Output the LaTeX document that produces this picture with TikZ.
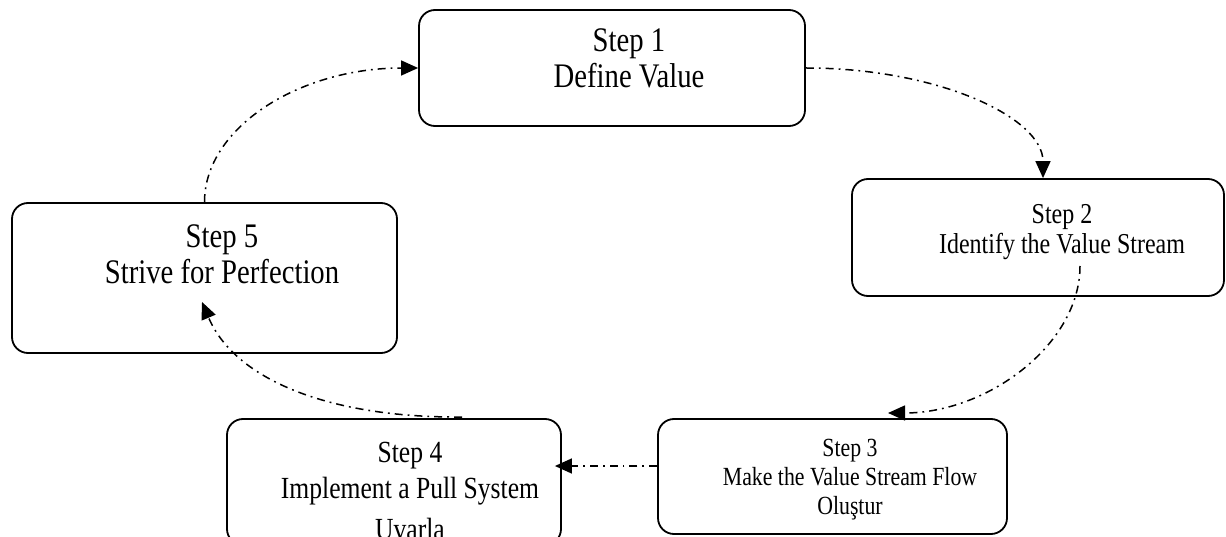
\documentclass[tikz,border=0pt]{standalone}
\usepackage{fontspec}
\setmainfont{Liberation Serif}
\usetikzlibrary{arrows.meta,calc}
\newcommand{\vtxt}[1]{\scalebox{1}[1.2]{#1}}
\begin{document}
\begin{tikzpicture}[x=1pt,y=-1pt,
  stepbox/.style={draw, line width=1.8pt, rounded corners=16pt, inner sep=0pt},
  lbl/.style={anchor=base, inner sep=0pt},
  bigtxt/.style={lbl, font=\fontsize{28.7}{30}\selectfont},
  flow/.style={line width=1.5pt, dash pattern=on 8pt off 5pt on 1.8pt off 5pt,
    -{Triangle[length=17pt,width=15pt]}}]
\useasboundingbox (0,0) rectangle (1226,537);
\clip (0,0) rectangle (1226,537);
% boxes
\node[stepbox, minimum width=386pt, minimum height=116pt] (s1) at (612,68) {};
\node[stepbox, minimum width=372pt, minimum height=117pt] (s2) at (1038,237.5) {};
\node[stepbox, minimum width=349pt, minimum height=115pt] (s3) at (832.5,476.5) {};
\node[stepbox, minimum width=334pt, minimum height=126pt] (s4) at (394,482) {};
\node[stepbox, minimum width=385pt, minimum height=150pt] (s5) at (204.5,278) {};
% texts
\node[bigtxt] (t1a) at (629,52) {\vtxt{Step 1}};
\node[bigtxt] (t1b) at (629,88) {\vtxt{Define Value}};
\node[lbl, font=\fontsize{24}{26}\selectfont] (t2a) at (1062,224) {\vtxt{Step 2}};
\node[lbl, font=\fontsize{24}{26}\selectfont] (t2b) at (1062,254) {\vtxt{Identify the Value Stream}};
\node[lbl, font=\fontsize{21.8}{24}\selectfont] (t3a) at (850,456) {\vtxt{Step 3}};
\node[lbl, font=\fontsize{21.8}{24}\selectfont] (t3b) at (850,485) {\vtxt{Make the Value Stream Flow}};
\node[lbl, font=\fontsize{21.8}{24}\selectfont] (t3c) at (850,514) {\vtxt{Oluştur}};
\node[lbl, font=\fontsize{25.6}{28}\selectfont] (t4a) at (410,462) {\vtxt{Step 4}};
\node[lbl, font=\fontsize{25.6}{28}\selectfont] (t4b) at (410,498) {\vtxt{Implement a Pull System}};
\node[lbl, font=\fontsize{25.6}{28}\selectfont] (t4c) at (410,539) {\vtxt{Uvarla}};
\node[bigtxt] (t5a) at (222,248) {\vtxt{Step 5}};
\node[bigtxt] (t5b) at (222,284) {\vtxt{Strive for Perfection}};
% connector end points
\coordinate (e12) at ($(s2.north)+(5,0)$);
\coordinate (b23) at (1080,266);
\coordinate (e23) at (888,413);
\coordinate (b34) at ($(s3.west)+(0,-10.5)$);
\coordinate (e34) at ($(b34 -| s4.east)+(-7,0)$);
\coordinate (b45) at (462,417);
\coordinate (e45) at (202,302);
% connectors
\draw[flow] (s1.east) .. controls +(131,0) and +(0,-61) .. (e12);
\draw[flow] (b23) .. controls +(0,78) and +(100,0) .. (e23);
\draw[flow] (b34) -- (e34);
\draw[flow] (b45) .. controls (330,418) and (235,380) .. (e45);
\draw[flow] (s5.north) .. controls +(0,-74.6) and +(-118.5,0) .. (s1.west);
\end{tikzpicture}
\end{document}
